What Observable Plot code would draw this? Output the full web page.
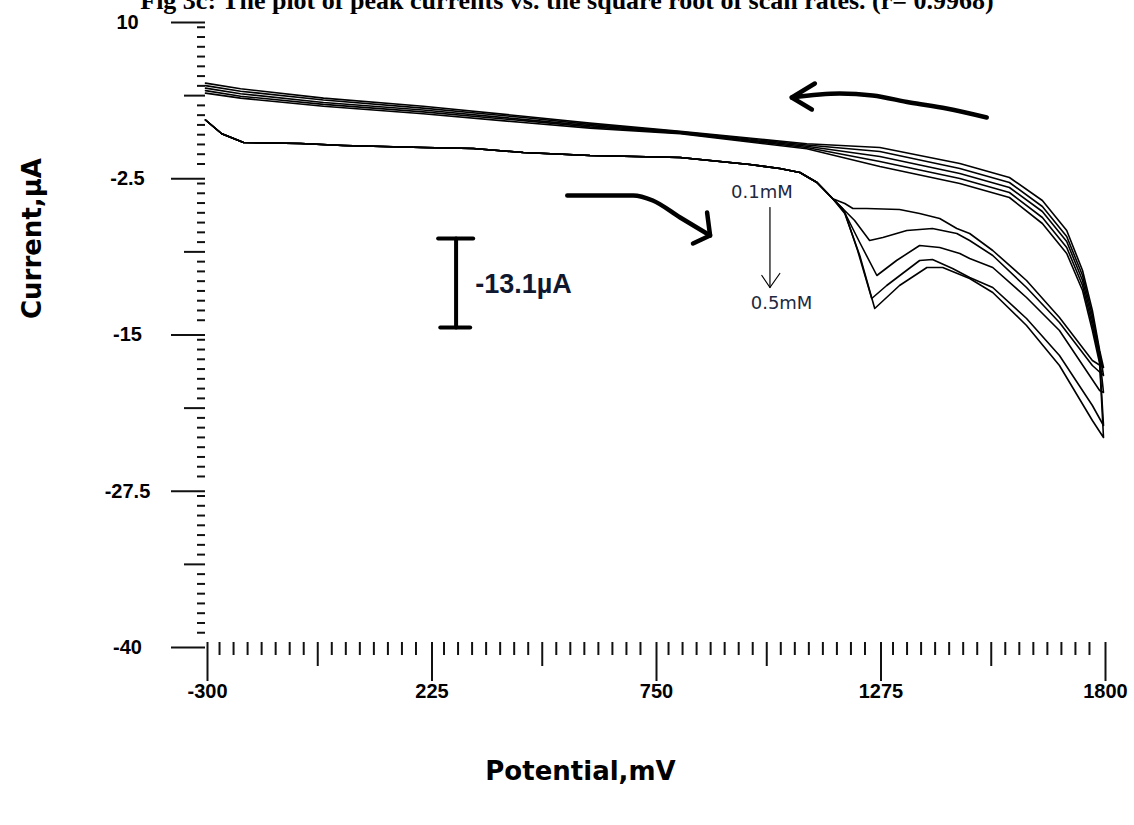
<!DOCTYPE html>
<html>
<head>
<meta charset="utf-8">
<script src="https://cdn.jsdelivr.net/npm/d3@7"></script>
<script src="https://cdn.jsdelivr.net/npm/@observablehq/plot@0.6"></script>
<style>
  html, body { margin: 0; padding: 0; background: #fff; }
  #wrap { position: relative; width: 1134px; height: 825px; overflow: hidden; background: #fff; }
  #chart { position: absolute; left: 0; top: 0; }
  #title { position: absolute; left: 0; width: 1134px; top: -12px; white-space: nowrap; text-align: center;
           font-family: "Liberation Serif", "Times New Roman", serif; font-weight: bold;
           font-size: 26px; line-height: 26px; color: #000; }
</style>
</head>
<body>
<div id="wrap">
  <div id="chart"></div>
  <div id="title">Fig 3c: The plot of peak currents vs. the square root of scan rates. (r= 0.9968)</div>
</div>
<script>
// ---------- data (potential in mV, current in µA) ----------
const curveLabels = ["0.1mM", "0.2mM", "0.3mM", "0.4mM", "0.5mM"];

// forward scan, part shared by all curves
const fwdCommonE = [-300, -262, -211, -78, 22, 209, 326, 443, 599, 810, 973, 1043, 1090, 1130, 1167];
const fwdCommonI = [1.8, 0.7, 0.0, -0.08, -0.24, -0.4, -0.48, -0.8, -1.04, -1.2, -1.76, -2.08, -2.4, -3.2, -4.5];

// forward scan, peak region and beyond
const fwdE1 = [1195, 1214, 1246, 1323, 1370, 1417, 1457, 1487, 1541, 1620, 1697, 1774, 1800];
const fwdI1 = [-4.88, -5.28, -5.28, -5.36, -5.68, -6.08, -6.88, -7.28, -8.64, -11.04, -14.0, -17.44, -18.0];
const fwdE2 = [1183, 1218, 1253, 1284, 1340, 1400, 1457, 1487, 1541, 1620, 1697, 1774, 1800];
const fwdI2 = [-5.04, -6.24, -7.84, -7.6, -7.04, -6.88, -7.28, -7.84, -9.04, -11.6, -14.4, -17.84, -18.64];
const fwdE3 = [1190, 1230, 1270, 1316, 1370, 1417, 1464, 1487, 1541, 1620, 1697, 1791, 1800];
const fwdI3 = [-5.28, -8.0, -10.64, -9.44, -8.24, -8.4, -8.88, -9.28, -10.0, -12.4, -15.04, -19.84, -20.0];
const fwdE4 = [1195, 1225, 1258, 1293, 1370, 1400, 1447, 1487, 1541, 1620, 1697, 1774, 1800];
const fwdI4 = [-5.6, -8.64, -12.48, -11.44, -9.44, -9.36, -10.08, -10.8, -11.6, -14.08, -17.04, -21.04, -22.64];
const fwdE5 = [1195, 1230, 1265, 1323, 1387, 1424, 1487, 1541, 1620, 1697, 1774, 1800];
const fwdI5 = [-5.68, -9.04, -13.28, -11.44, -10.0, -10.0, -10.88, -12.0, -14.64, -17.84, -22.24, -23.6];

// reverse scan (from 1800 back to -300)
const revE  = [1791, 1774, 1751, 1714, 1657, 1580, 1464, 1277, 1106, 810, 599, 443, 209, -24, -218, -300];
const revI1 = [-16.64, -13.44, -10.24, -7.04, -4.64, -2.8, -1.68, -0.4, -0.1, 0.9, 1.55, 2.1, 2.9, 3.55, 4.3, 4.75];
const revI2 = [-16.8, -13.84, -10.64, -7.52, -5.12, -3.2, -2.08, -0.72, -0.2, 0.85, 1.45, 2.0, 2.75, 3.4, 4.1, 4.55];
const revI3 = [-17.12, -14.24, -11.04, -7.92, -5.52, -3.6, -2.48, -1.12, -0.3, 0.8, 1.35, 1.85, 2.6, 3.2, 3.9, 4.35];
const revI4 = [-17.44, -14.64, -11.44, -8.4, -6.0, -4.0, -2.88, -1.52, -0.4, 0.75, 1.25, 1.75, 2.45, 3.05, 3.7, 4.15];
const revI5 = [-17.68, -15.04, -11.84, -8.88, -6.48, -4.4, -3.28, -1.92, -0.5, 0.7, 1.15, 1.6, 2.3, 2.9, 3.55, 3.95];

// axis ticks
const xTickValues = [-300, 225, 750, 1275, 1800];
const xTickLabels = ["-300", "225", "750", "1275", "1800"];
const yTickValues = [10, -2.5, -15, -27.5, -40];
const yTickLabels = ["10", "-2.5", "-15", "-27.5", "-40"];

// annotations (data coordinates)
const revArrowE = [1527, 1433, 1347, 1260, 1183, 1071];
const revArrowI = [2.0, 2.72, 3.2, 3.76, 3.92, 3.6];
const revHeadE = [1125, 1071, 1118];
const revHeadI = [4.72, 3.6, 2.64];
const fwdArrowE = [546, 700, 746, 810, 880];
const fwdArrowI = [-4.24, -4.24, -4.64, -6.0, -7.44];
const fwdHeadE = [873, 880, 840];
const fwdHeadI = [-5.6, -7.44, -8.08];
const barE = [286, 286];
const barI = [-7.68, -14.8];
const barTopE = [244, 326];
const barBotE = [249, 319];
const barText = "-13.1µA";
const barTextE = 326, barTextI = -11.36;
const concE = [1020, 1020];
const concI = [-5.2, -11.6];
const concHeadE = [1001, 1020, 1043];
const concHeadI = [-10.64, -11.6, -10.48];
const concLabels = ["0.1mM", "0.5mM"];
const concLabelE = [929, 975];
const concLabelI = [-4.0, -12.88];

// ---------- build tables ----------
const fwdEs = [fwdE1, fwdE2, fwdE3, fwdE4, fwdE5];
const fwdIs = [fwdI1, fwdI2, fwdI3, fwdI4, fwdI5];
const revIs = [revI1, revI2, revI3, revI4, revI5];
const rows = [];
curveLabels.forEach((lab, k) => {
  const E = [...fwdCommonE, ...fwdEs[k], ...revE];
  const I = [...fwdCommonI, ...fwdIs[k], ...revIs[k]];
  E.forEach((e, i) => rows.push({curve: lab, E: e, I: I[i]}));
});
const pts = (E, I) => E.map((e, i) => ({E: e, I: I[i]}));

// tick sets (16 subdivisions per labelled interval)
const xStep = (xTickValues[1] - xTickValues[0]) / 16;
const yStep = (yTickValues[0] - yTickValues[1]) / 16;
const xMid = [], xMinor = [], yMid = [], yMinor = [];
for (let i = 1; i < 64; i++) {
  if (i % 16 === 0) continue;
  const xv = xTickValues[0] + i * xStep, yv = yTickValues[4] + i * yStep;
  if (i % 8 === 0) { xMid.push(xv); yMid.push(yv); } else { xMinor.push(xv); yMinor.push(yv); }
}
const xLab = new Map(xTickValues.map((v, i) => [v, xTickLabels[i]]));
const yLab = new Map(yTickValues.map((v, i) => [v, yTickLabels[i]]));

const tickFont = {fontSize: 20, fontWeight: "bold", fontFamily: "Liberation Sans, Arial, sans-serif"};
const tickStroke = {stroke: "#111", strokeWidth: 2};

const chart = Plot.plot({
  width: 1134,
  height: 825,
  marginLeft: 205,
  marginRight: 31,
  marginTop: 17,
  marginBottom: 183,
  x: {domain: [-300, 1800]},
  y: {domain: [-40, 10]},
  style: {background: "white", color: "black", fontFamily: "Liberation Sans, Arial, sans-serif", overflow: "visible"},
  marks: [
    // y axis ticks
    Plot.axisY(yMinor, {tickSize: 8, tickFormat: () => "", label: null, ...tickStroke}),
    Plot.axisY(yMid, {tickSize: 21, tickFormat: () => "", label: null, ...tickStroke}),
    Plot.axisY(yTickValues, {tickSize: 34, tickPadding: 44, textAnchor: "middle", dy: 5,
      tickFormat: d => yLab.get(d), label: null, ...tickStroke, ...tickFont}),
    // x axis ticks
    Plot.axisX(xMinor, {tickSize: 13, tickFormat: () => "", label: null, ...tickStroke}),
    Plot.axisX(xMid, {tickSize: 24, tickFormat: () => "", label: null, ...tickStroke}),
    Plot.axisX(xTickValues, {tickSize: 39, tickPadding: 2, dx: 2,
      tickFormat: d => xLab.get(d), label: null, ...tickStroke, ...tickFont}),
    // axis titles
    Plot.text(["Current,µA"], {text: d => d, frameAnchor: "left", dx: -173, dy: -11, rotate: -90,
      fontSize: 26, fontWeight: "bold", fontFamily: "DejaVu Sans, sans-serif"}),
    Plot.text(["Potential,mV"], {text: d => d, frameAnchor: "bottom", dx: -74, dy: 137,
      fontSize: 26, fontWeight: "bold", fontFamily: "DejaVu Sans, sans-serif"}),
    // voltammograms
    Plot.line(rows, {x: "E", y: "I", z: "curve", stroke: "#000", strokeWidth: 1.6, strokeLinejoin: "round"}),
    // scan-direction arrows
    Plot.line(pts(revArrowE, revArrowI), {x: "E", y: "I", stroke: "#000", strokeWidth: 4.5, curve: "monotone-x"}),
    Plot.line(pts(revHeadE, revHeadI), {x: "E", y: "I", stroke: "#000", strokeWidth: 4.5}),
    Plot.line(pts(fwdArrowE, fwdArrowI), {x: "E", y: "I", stroke: "#000", strokeWidth: 4.5, curve: "monotone-x"}),
    Plot.line(pts(fwdHeadE, fwdHeadI), {x: "E", y: "I", stroke: "#000", strokeWidth: 4.5}),
    // scale bar
    Plot.line(pts(barE, barI), {x: "E", y: "I", stroke: "#000", strokeWidth: 4}),
    Plot.line(pts(barTopE, [barI[0], barI[0]]), {x: "E", y: "I", stroke: "#000", strokeWidth: 4}),
    Plot.line(pts(barBotE, [barI[1], barI[1]]), {x: "E", y: "I", stroke: "#000", strokeWidth: 4}),
    Plot.text([barText], {text: d => d, x: barTextE, y: barTextI, dx: 2, textAnchor: "start",
      fontSize: 27, fontWeight: "bold", fill: "#101830", fontFamily: "Liberation Sans, Arial, sans-serif"}),
    // concentration arrow
    Plot.line(pts(concE, concI), {x: "E", y: "I", stroke: "#000", strokeWidth: 1.2}),
    Plot.line(pts(concHeadE, concHeadI), {x: "E", y: "I", stroke: "#000", strokeWidth: 1.2}),
    Plot.text(concLabels, {text: d => d, x: (d, i) => concLabelE[i], y: (d, i) => concLabelI[i],
      textAnchor: "start", fontSize: 18, fill: "#1e2840", fontFamily: "DejaVu Sans, sans-serif"})
  ]
});
document.getElementById("chart").appendChild(chart);
</script>
</body>
</html>
